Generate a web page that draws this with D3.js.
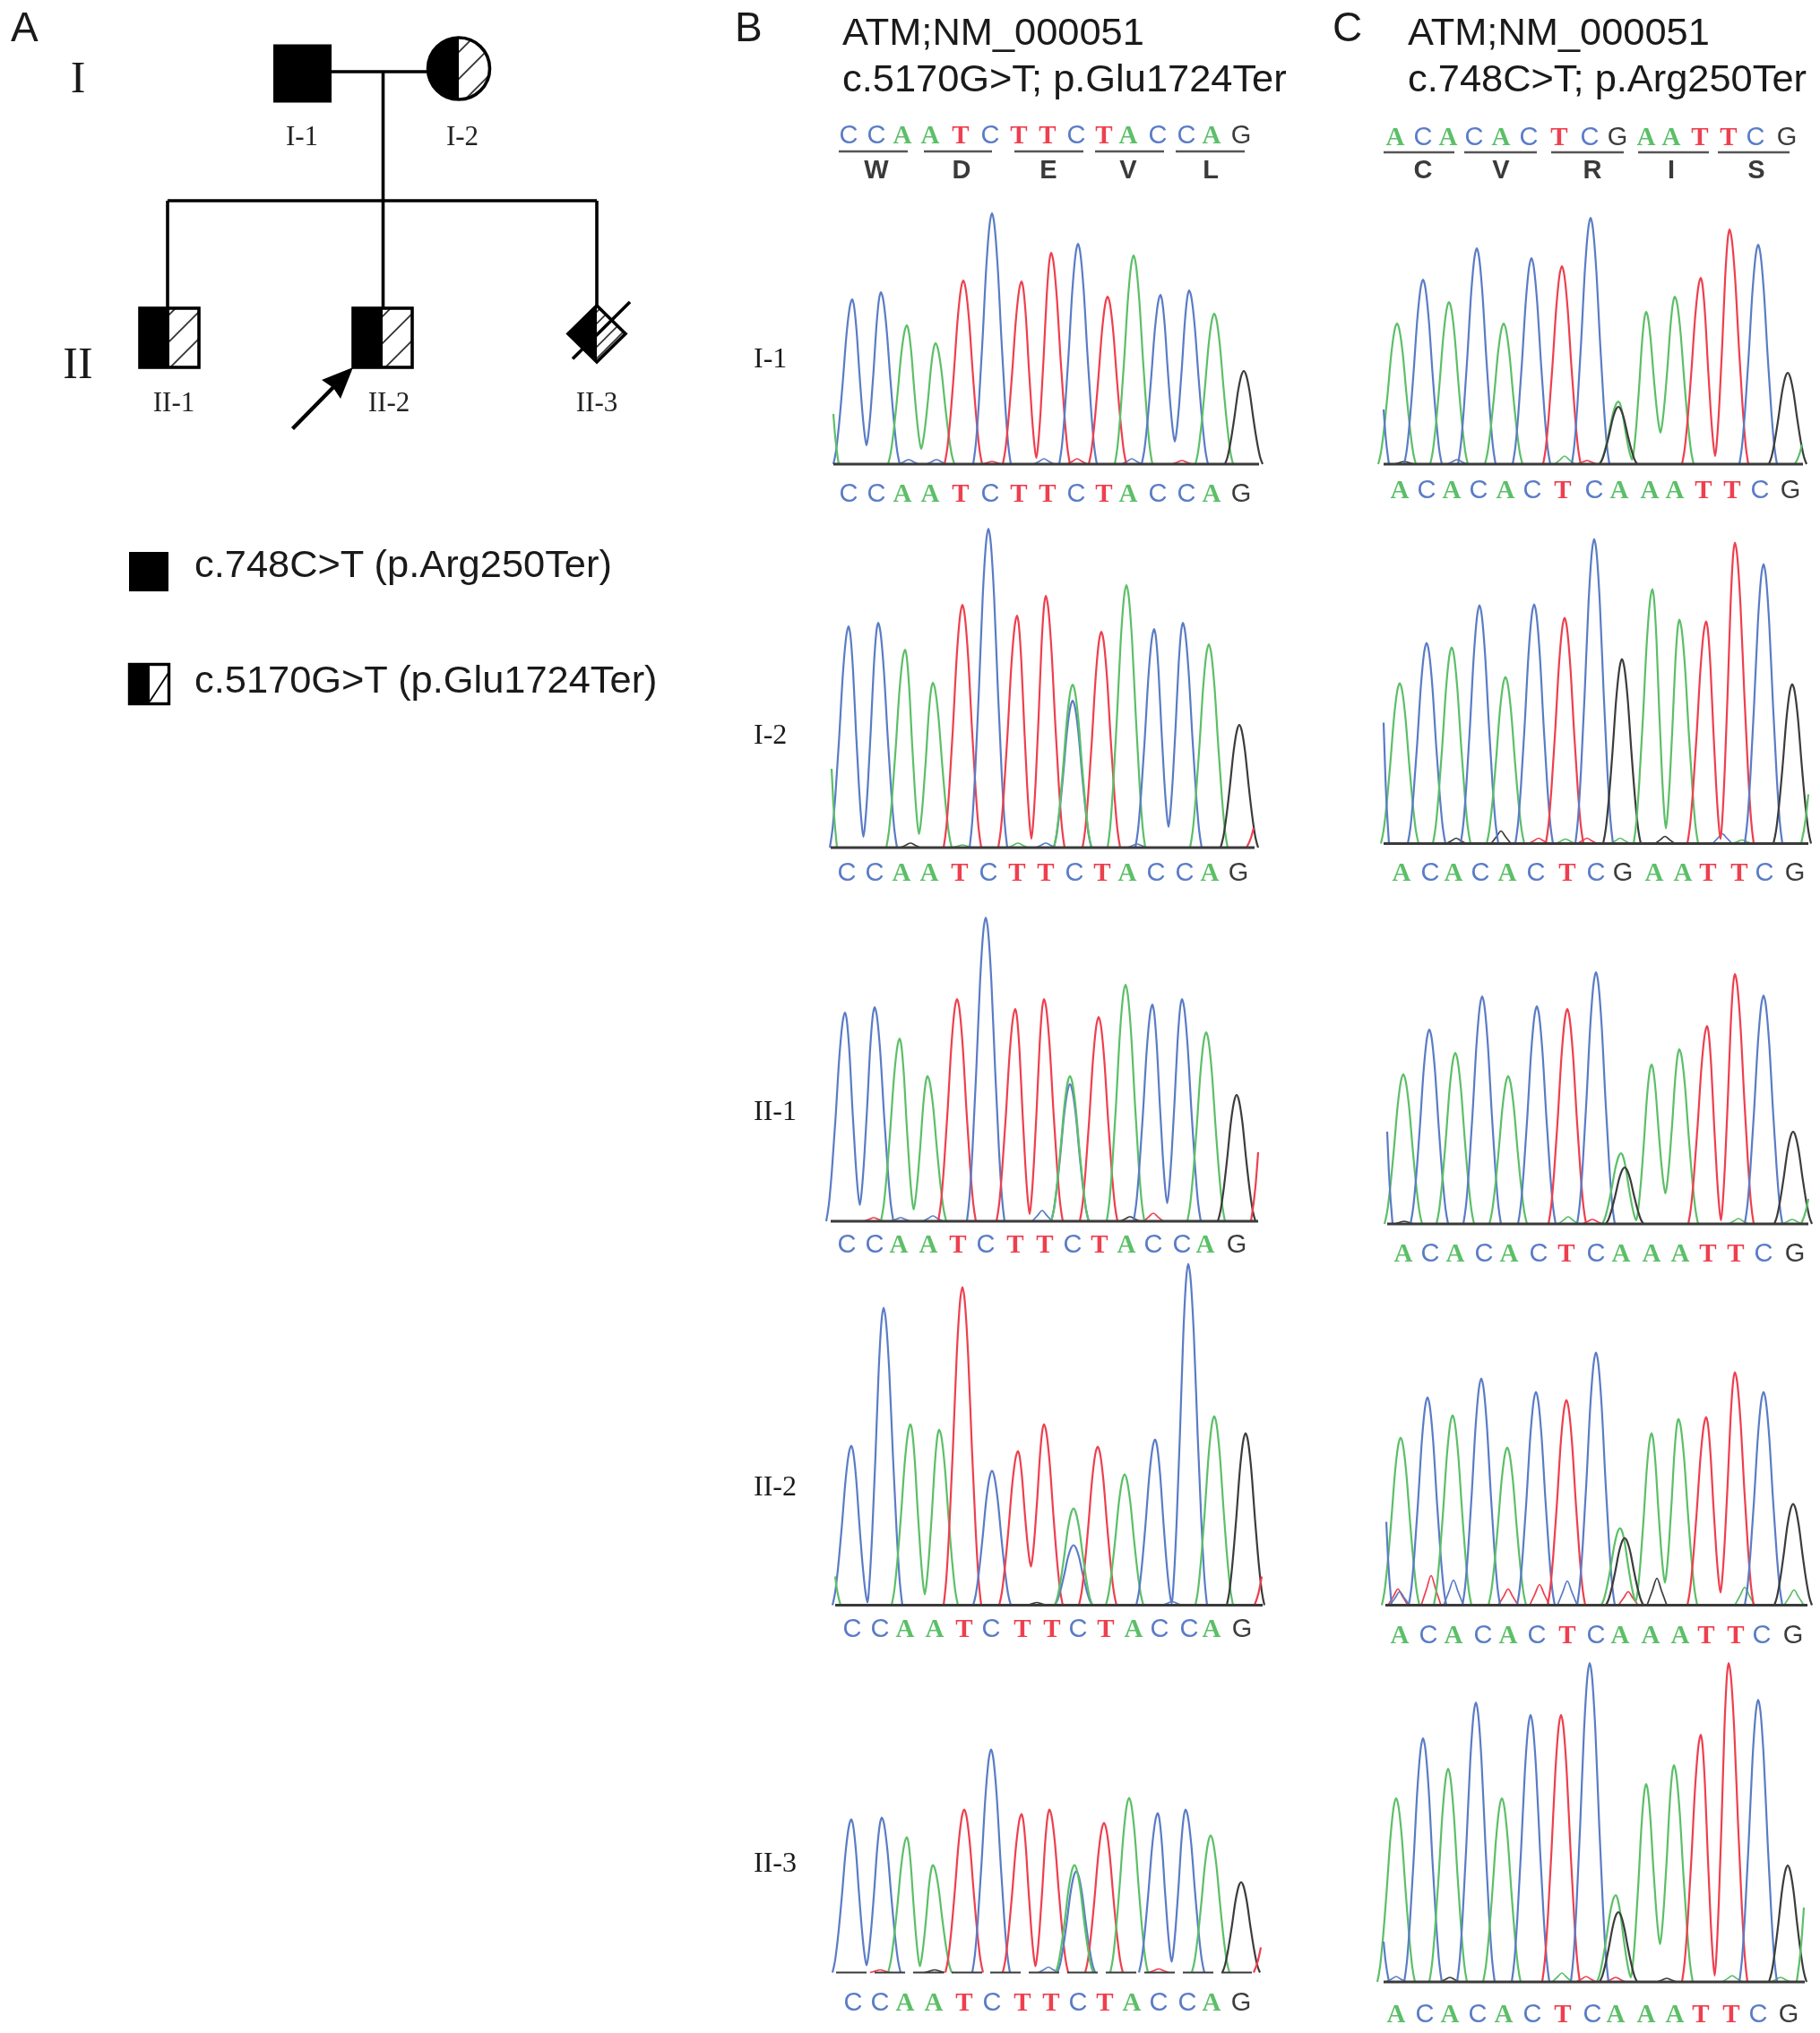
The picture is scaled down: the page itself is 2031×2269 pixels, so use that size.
<!DOCTYPE html>
<html><head><meta charset="utf-8">
<script src="https://cdn.jsdelivr.net/npm/d3@7"></script>
<style>html,body{margin:0;padding:0;background:#fff}svg{display:block;filter:blur(0.45px)}</style>
</head><body><svg id="fig" width="2031" height="2269"></svg>
<script>
// ---------- DATA ----------
const seqB = "CCAATCTTCTACCAG".split("");
const seqC = "ACACACTCAAATTCG".split("");
const seqC2 = "ACACACTCGAATTCG".split("");
const refB = "CCAATCTTCTACCAG".split("");
const refC = "ACACACTCGAATTCG".split("");
const aminoB = ["W","D","E","V","L"];
const aminoC = ["C","V","R","I","S"];
const rowNames = ["I-1","I-2","II-1","II-2","II-3"];

// panel B: scan position, signal, base-call scan position per individual
const scanBI1  = [51,83,112,144,175,207,240,273,303,336,365,395,427,455,488];
const sigBI1   = [184,192,155,135,205,280,204,236,246,187,233,189,194,168,104];
const callBI1  = [47,78,107,138,172,205,237,269,301,332,359,392,424,452,485];
const scanBI2  = [47,80,110,141,174,203,235,267,297,329,357,388,420,449,483];
const sigBI2   = [247,251,221,184,271,356,259,281,164,241,293,244,251,227,137];
const callBI2  = [45,76,106,137,171,203,235,267,299,330,358,390,422,450,482];
const scanBII1 = [43,76,104,135,168,200,233,265,294,326,356,386,419,446,480];
const sigBII1  = [233,239,204,162,248,339,237,248,153,228,264,242,248,211,141];
const callBII1 = [45,76,103,136,169,200,233,266,297,327,357,387,419,445,480];
const scanBII2 = [50,86,116,148,174,207,236,265,298,325,355,389,426,455,490];
const sigBII2  = [178,332,202,196,355,150,172,202,67,177,146,185,381,211,192];
const callBII2 = [51,82,110,143,176,206,241,274,303,334,365,394,427,452,486];
const scanBII3 = [50,84,112,141,176,206,240,271,301,332,360,392,423,451,485];
const sigBII3  = [171,173,151,120,182,249,177,182,113,167,195,178,182,153,101];
const callBII3 = [52,82,110,142,176,207,241,273,303,333,363,393,425,452,485];

// panel C
const scanCI1  = [59,88,117,148,178,209,243,275,306,337,369,398,430,462,495];
const sigCI1   = [157,206,181,241,157,230,221,275,70,170,187,208,262,245,102];
const callCI1  = [62,92,120,150,180,210,244,279,307,341,369,401,433,464,498];
const scanCI2  = [62,92,120,151,180,212,246,279,310,344,374,404,436,468,500];
const sigCI2   = [179,224,219,266,186,267,252,340,206,284,250,248,336,312,178];
const callCI2  = [64,96,122,152,182,214,249,281,311,346,378,406,441,469,503];
const scanCII1 = [66,95,124,154,183,215,249,281,309,343,374,405,436,468,501];
const sigCII1  = [167,217,191,254,165,243,240,281,79,178,195,221,279,255,103];
const callCII1 = [66,96,124,156,184,217,248,281,309,343,375,406,437,468,503];
const scanCII2 = [63,93,121,153,182,214,248,281,308,343,373,404,436,468,501];
const sigCII2  = [187,232,212,253,176,238,229,282,86,192,208,210,260,238,113];
const callCII2 = [62,94,122,155,183,215,249,281,308,342,375,404,437,466,501];
const scanCII3 = [58,88,116,147,176,208,242,274,303,337,368,398,429,462,495];
const sigCII3  = [205,272,238,312,205,298,298,356,97,221,242,276,356,315,130];
const callCII3 = [58,90,118,149,178,210,244,277,303,337,369,398,432,462,496];

const refScanB = [47,78,107,138,172,205,237,269,301,332,359,392,424,452,485];
const refScanC = [57,88,116,145,175,206,240,274,305,337,365,397,429,459,494];

// valleys between neighbouring peaks of the same base: [left peak index, signal]
const valBI1  = [[0,21],[2,17],[6,7],[11,25]];
const valBI2  = [[0,12],[2,15],[6,10],[11,23]];
const valBII1 = [[0,18],[2,13],[6,8],[11,20]];
const valBII2 = [[0,3],[2,12],[6,43],[11,2]];
const valBII3 = [[0,8],[2,7],[6,7],[11,12]];
const valCI1  = [[8,5],[9,35],[11,9]];
const valCI2  = [[9,17],[11,5]];
const valCII1 = [[8,4],[9,34],[11,4]];
const valCII2 = [[8,4],[9,25],[11,14]];
const valCII3 = [[8,5],[9,42],[11,7]];

// second peak at the variant site: [scan, signal, base]
const hetBI1  = null;
const hetBI2  = [297,182,"A"];
const hetBII1 = [294,162,"A"];
const hetBII2 = [298,108,"A"];
const hetBII3 = [299,120,"A"];
const hetCI1  = [306,64,"G"];
const hetCI2  = null;
const hetCII1 = [313,63,"G"];
const hetCII2 = [313,75,"G"];
const hetCII3 = [306,78,"G"];

// clipped peaks at the edges of a trace: [scan, signal, base]
const leadBI1=[30,56,"A"], leadBI2=[28,88,"A"], leadBII1=null, leadBII2=[32,32,"A"], leadBII3=null;
const tailBI1=null, tailBI2=[499,22,"T"], tailBII1=[504,77,"T"], tailBII2=[508,32,"T"], tailBII3=[507,28,"T"];
const leadCI1=[44,61,"C"], leadCI2=[44,135,"C"], leadCII1=[48,103,"C"], leadCII2=[47,93,"C"], leadCII3=[44,45,"C"];
const tailCI1=[511,22,"A"], tailCI2=[518,55,"A"], tailCII1=[518,28,"A"], tailCII2=null, tailCII3=[513,83,"A"];

// background noise bumps: [scan, signal, base]
const noiseBI1  = [[114,5,"C"],[145,5,"C"],[207,3,"T"],[265,6,"C"],[302,6,"T"],[363,6,"C"],[419,4,"T"]];
const noiseBI2  = [[116,5,"G"],[174,3,"A"],[236,5,"A"],[267,5,"C"],[369,4,"C"]];
const noiseBII1 = [[75,4,"T"],[105,4,"C"],[141,6,"C"],[263,12,"C"],[361,5,"G"],[387,9,"T"]];
const noiseBII2 = [[257,3,"G"],[408,4,"C"]];
const noiseBII3 = [[82,3,"T"],[143,3,"G"],[270,6,"C"],[393,4,"T"]];
const noiseCI1  = [[67,3,"G"],[126,5,"C"],[246,9,"A"],[271,4,"T"]];
const noiseCI2  = [[125,6,"G"],[175,14,"G"],[217,6,"T"],[247,5,"A"],[271,6,"T"],[308,6,"A"],[358,8,"G"],[422,11,"C"],[444,4,"A"]];
const noiseCII1 = [[67,3,"G"],[250,8,"A"],[277,5,"T"],[440,6,"A"],[500,5,"A"]];
const noiseCII2 = [[60,18,"T"],[62,15,"C"],[97,33,"T"],[122,28,"C"],[183,18,"T"],[218,23,"T"],[249,27,"C"],[317,15,"T"],[349,30,"G"],[447,20,"A"],[502,17,"A"]];
const noiseCII3 = [[58,6,"C"],[118,5,"G"],[243,10,"A"],[270,6,"T"],[303,5,"T"],[360,4,"G"],[433,7,"A"],[487,5,"A"]];

const legendTexts = ["c.748C>T (p.Arg250Ter)","c.5170G>T (p.Glu1724Ter)"];
const titlesB = ["ATM;NM_000051","c.5170G>T; p.Glu1724Ter"];
const titlesC = ["ATM;NM_000051","c.748C>T; p.Arg250Ter"];

// ---------- TABLES ----------
const rowsB = [
 {seq:seqB,scan:scanBI1,sig:sigBI1,call:callBI1,val:valBI1,het:hetBI1,lead:leadBI1,tail:tailBI1,noise:noiseBI1},
 {seq:seqB,scan:scanBI2,sig:sigBI2,call:callBI2,val:valBI2,het:hetBI2,lead:leadBI2,tail:tailBI2,noise:noiseBI2},
 {seq:seqB,scan:scanBII1,sig:sigBII1,call:callBII1,val:valBII1,het:hetBII1,lead:leadBII1,tail:tailBII1,noise:noiseBII1},
 {seq:seqB,scan:scanBII2,sig:sigBII2,call:callBII2,val:valBII2,het:hetBII2,lead:leadBII2,tail:tailBII2,noise:noiseBII2},
 {seq:seqB,scan:scanBII3,sig:sigBII3,call:callBII3,val:valBII3,het:hetBII3,lead:leadBII3,tail:tailBII3,noise:noiseBII3}
];
const rowsC = [
 {seq:seqC,scan:scanCI1,sig:sigCI1,call:callCI1,val:valCI1,het:hetCI1,lead:leadCI1,tail:tailCI1,noise:noiseCI1},
 {seq:seqC2,scan:scanCI2,sig:sigCI2,call:callCI2,val:valCI2,het:hetCI2,lead:leadCI2,tail:tailCI2,noise:noiseCI2},
 {seq:seqC,scan:scanCII1,sig:sigCII1,call:callCII1,val:valCII1,het:hetCII1,lead:leadCII1,tail:tailCII1,noise:noiseCII1},
 {seq:seqC,scan:scanCII2,sig:sigCII2,call:callCII2,val:valCII2,het:hetCII2,lead:leadCII2,tail:tailCII2,noise:noiseCII2},
 {seq:seqC,scan:scanCII3,sig:sigCII3,call:callCII3,val:valCII3,het:hetCII3,lead:leadCII3,tail:tailCII3,noise:noiseCII3}
];

// ---------- LAYOUT ----------
const baseColor = {A:"#5cbf68",C:"#5a7cc6",T:"#ee3f4e",G:"#3c3c3c"};
const sans = "'Liberation Sans',Arial,sans-serif", serif = "'Liberation Serif','Times New Roman',serif";
const layoutB = {origin:900, baselines:[518,946,1363,1791.5,2201.5], axis:[[30,505],[27,500],[27,504],[32,509],[33,503]],
  callY:[550,973,1388,1817,2234], refY:150, barY:169, aaY:189,
  bars:[[36,113],[131,207],[232,309],[322,399],[412,489]], aaX:[78,173,270,359,451]};
const layoutC = {origin:1500, baselines:[518,941.5,1366,1791.5,2212], axis:[[44,512],[44,518],[48,518],[46,517],[44,514]],
  callY:[546,973,1398,1824,2247], refY:152, barY:170, aaY:189,
  bars:[[44,123],[134,215],[231,312],[328,407],[417,497]], aaX:[88,175,277,365,460]};

const svg = d3.select("#fig");
const flank = [[0,1],[.1,.97],[.3,.79],[.5,.5],[.7,.24],[.86,.08],[1,0]];
const halfWidth = 21;
const line = d3.line().x(d=>d[0]).y(d=>d[1]).curve(d3.curveMonotoneX);

function letterFont(b){return (b==="A"||b==="T")?serif:sans;}
function baseText(g,b,x,y){
  g.append("text").attr("x",x).attr("y",y).attr("text-anchor","middle").attr("dominant-baseline","central")
   .attr("font-family",letterFont(b)).attr("font-size",29)
   .attr("font-weight",(b==="A"||b==="T")?"bold":"normal").attr("fill",baseColor[b]).text(b);
}

function drawPanel(rows,L,ref,amino){
  const x = d3.scaleLinear().domain([0,600]).range([L.origin,L.origin+600]);
  const top = svg.append("g");
  ref.forEach((b,i)=>baseText(top,b,x(L===layoutB?refScanB[i]:refScanC[i]),L.refY));
  L.bars.forEach((r,i)=>{
    top.append("line").attr("x1",x(r[0])).attr("x2",x(r[1])).attr("y1",L.barY).attr("y2",L.barY)
      .attr("stroke","#555").attr("stroke-width",2.6);
    top.append("text").attr("x",x(L.aaX[i])).attr("y",L.aaY).attr("text-anchor","middle").attr("dominant-baseline","central")
      .attr("font-family",sans).attr("font-weight","bold").attr("font-size",29).attr("fill","#3a3a3a").text(amino[i]);
  });
  rows.forEach((row,ri)=>{
    const y = d3.scaleLinear().domain([0,400]).range([L.baselines[ri],L.baselines[ri]-400]);
    const g = svg.append("g");
    const trace=(pts,b,w)=>g.append("path").attr("d",line(pts)).attr("fill","none")
      .attr("stroke",baseColor[b]).attr("stroke-width",w||2.2).attr("stroke-linejoin","round");
    // noise
    row.noise.forEach(n=>{
      trace([[x(n[0]-11),y(0)],[x(n[0]-5),y(n[1]*.55)],[x(n[0]),y(n[1])],[x(n[0]+5),y(n[1]*.55)],[x(n[0]+11),y(0)]],n[2],1.7);
    });
    // runs of same-base peaks become one continuous trace
    const valley = new Map(row.val);
    const seq = row.seq;
    let i=0;
    while(i<seq.length){
      let pts=[], j=i;
      const h0=row.sig[i], p0=row.scan[i];
      flank.slice().reverse().forEach(f=>pts.push([x(p0-f[0]*halfWidth),y(h0*f[1])]));
      while(j<seq.length-1 && seq[j+1]===seq[j] && valley.has(j)){
        const v=valley.get(j), p=row.scan[j], q=row.scan[j+1], hp=row.sig[j], hq=row.sig[j+1], mid=(p+q)/2;
        flank.slice(1).forEach(f=>pts.push([x(p+(mid-p)*f[0]),y(v+(hp-v)*f[1])]));
        flank.slice(0,-1).reverse().forEach(f=>pts.push([x(q-(q-mid)*f[0]),y(v+(hq-v)*f[1])]));
        j++;
      }
      const pe=row.scan[j], he=row.sig[j];
      flank.slice(1).forEach(f=>pts.push([x(pe+f[0]*halfWidth),y(he*f[1])]));
      trace(pts,seq[i]);
      i=j+1;
    }
    if(row.het){
      const [p,h,b]=row.het, pts=[];
      flank.slice().reverse().forEach(f=>pts.push([x(p-f[0]*halfWidth),y(h*f[1])]));
      flank.slice(1).forEach(f=>pts.push([x(p+f[0]*halfWidth),y(h*f[1])]));
      trace(pts,b);
    }
    if(row.lead){ const [p,h,b]=row.lead; trace([[x(p),y(h)],[x(p+2),y(h*.55)],[x(p+6),y(0)]],b); }
    if(row.tail){ const [p,h,b]=row.tail; trace([[x(p-8),y(0)],[x(p-3),y(h*.5)],[x(p),y(h)]],b); }
    // baseline
    const ax=L.axis[ri];
    const bl=g.append("line").attr("x1",x(ax[0])).attr("x2",x(ax[1])).attr("y1",y(0)).attr("y2",y(0))
      .attr("stroke","#3a3a3a").attr("stroke-width",2.8);
    if(L===layoutB && ri===4) bl.attr("stroke-dasharray","34 9").attr("stroke-width",1.8);
    // base calls
    seq.forEach((b,k)=>baseText(g,b,x(row.call[k]),L.callY[ri]));
  });
}
drawPanel(rowsB,layoutB,refB,aminoB);
drawPanel(rowsC,layoutC,refC,aminoC);

// ---------- TEXT ----------
function text(t,x,y,size,fam,anchor,fill){
  svg.append("text").attr("x",x).attr("y",y).attr("font-size",size).attr("font-family",fam)
   .attr("text-anchor",anchor||"start").attr("fill",fill||"#1a1a1a").text(t);
}
text("A",12,46,46,sans); text("B",820,46,46,sans); text("C",1487,46,46,sans);
titlesB.forEach((t,i)=>text(t,940,[50,102][i],43.4,sans));
titlesC.forEach((t,i)=>text(t,1571,[50,102][i],43.4,sans));
[400,820,1240,1659,2079].forEach((yy,i)=>text(rowNames[i],841,yy+10,32,serif));

// ---------- PEDIGREE ----------
const defs = svg.append("defs");
defs.append("pattern").attr("id","hatch").attr("patternUnits","userSpaceOnUse").attr("width",30).attr("height",30)
  .append("path").attr("d","M-3,33 L33,-3 M-18,18 L18,-18 M12,48 L48,12").attr("stroke","#333").attr("stroke-width",1.8);
defs.append("pattern").attr("id","hatchFine").attr("patternUnits","userSpaceOnUse").attr("width",13).attr("height",13)
  .append("path").attr("d","M-2,15 L15,-2 M-8,8 L8,-8 M5,21 L21,5").attr("stroke","#333").attr("stroke-width",1.6);
const lw=3.6;
const ped = svg.append("g");
const ln=(x1,y1,x2,y2,w)=>ped.append("line").attr("x1",x1).attr("y1",y1).attr("x2",x2).attr("y2",y2).attr("stroke","#000").attr("stroke-width",w||lw);
ln(368,80,480,80); ln(427.5,80,427.5,344); ln(187,224,666,224); ln(187,224,187,344); ln(666,224,666,344);
ped.append("rect").attr("x",305).attr("y",49.5).attr("width",65).attr("height",65).attr("fill","#000");
// circle I-2
const arc=d3.arc().innerRadius(0).outerRadius(34.5);
ped.append("circle").attr("cx",512).attr("cy",76.5).attr("r",34.5).attr("fill","url(#hatch)").attr("stroke","#000").attr("stroke-width",lw);
ped.append("path").attr("transform","translate(512,76.5)").attr("d",arc({startAngle:Math.PI,endAngle:2*Math.PI})).attr("fill","#000");
// half squares
function halfSquare(x0,y0,s,sw,pat){
  ped.append("rect").attr("x",x0).attr("y",y0).attr("width",s).attr("height",s).attr("fill",`url(#${pat})`).attr("stroke","#000").attr("stroke-width",sw);
  ped.append("rect").attr("x",x0).attr("y",y0).attr("width",s/2).attr("height",s).attr("fill","#000");
}
halfSquare(156,344,66,lw,"hatch");
halfSquare(394,344,66,lw,"hatch");
// diamond II-3
ped.append("path").attr("d","M666,341 L698,372.5 L666,404 L634,372.5 Z").attr("fill","url(#hatchFine)").attr("stroke","#000").attr("stroke-width",lw);
ped.append("path").attr("d","M666,341 L666,404 L634,372.5 Z").attr("fill","#000");
ln(639,400.5,703,337);
// arrow
ln(326.5,478.5,380,424,4.4);
ped.append("path").attr("d","M394,410 L380,445 L372,433 L359,424 Z").attr("fill","#000");
[["I-1",337,162],["I-2",516,162],["II-1",194,459],["II-2",434,459],["II-3",666,459]]
 .forEach(d=>text(d[0],d[1],d[2],31,serif,"middle","#222"));
text("I",87,103,50,serif,"middle"); text("II",87,422,50,serif,"middle");
// legend
ped.append("rect").attr("x",144).attr("y",616).attr("width",44).attr("height",44).attr("fill","#000");
ped.append("rect").attr("x",144.5).attr("y",741.5).attr("width",44).attr("height",44).attr("fill","#fff").attr("stroke","#000").attr("stroke-width",3.4);
ped.append("rect").attr("x",144).attr("y",741).attr("width",23).attr("height",45).attr("fill","#000");
ln(167,783,188,751,1.8);
text(legendTexts[0],217,644,43.4,sans); text(legendTexts[1],217,773,43.4,sans);
</script></body></html>
